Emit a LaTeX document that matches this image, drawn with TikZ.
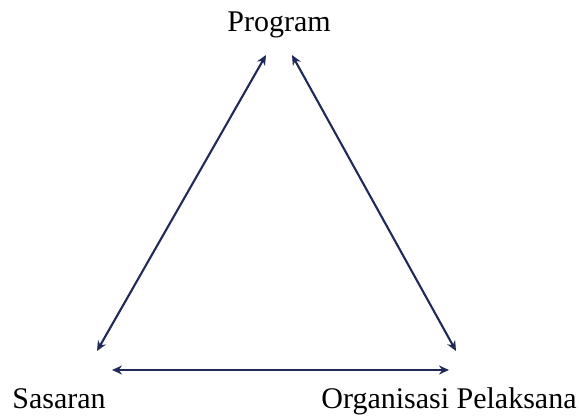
\documentclass[tikz,border=0pt]{standalone}
\usepackage{fontspec}
\setmainfont{Liberation Serif}
\usetikzlibrary{arrows.meta}
\definecolor{navy}{RGB}{31,42,88}
\tikzset{
  label/.style={font=\fontsize{30}{34}\selectfont, inner sep=0pt, anchor=base},
  link/.style={navy, line width=2.1pt, {Stealth[length=10pt,width=9pt]}-{Stealth[length=10pt,width=9pt]}}
}
\begin{document}
\begin{tikzpicture}[x=1pt,y=-1pt]
      \useasboundingbox (0,0) rectangle (579,417);
      \node[label] (program) at (279,32) {Program};
      \node[label] (sasaran) at (59,408) {Sasaran};
      \node[label] (organisasi) at (449,408) {Organisasi Pelaksana};

      \coordinate (pl) at (266,55);
      \coordinate (pr) at (292,55);
      \coordinate (sa) at (97,351);
      \coordinate (ob) at (456,351);
      \coordinate (sb) at (112,370);
      \coordinate (oa) at (449,370);

      \draw[link] (pl) -- (sa);
      \draw[link] (pr) -- (ob);
      \draw[link] (sb) -- (oa);
\end{tikzpicture}
\end{document}
